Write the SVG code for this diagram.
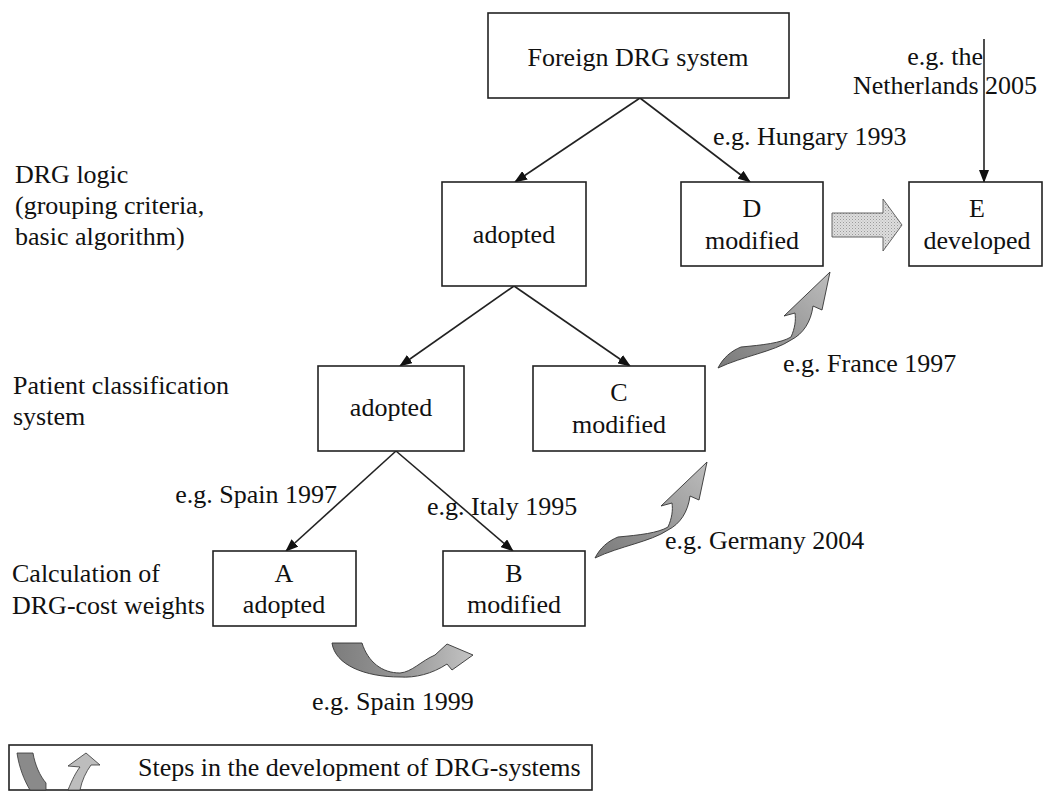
<svg xmlns="http://www.w3.org/2000/svg" width="1050" height="792" viewBox="0 0 1050 792">
<style>
text{font-family:"Liberation Serif","Times New Roman",serif;font-size:26px;fill:#111}
.c{text-anchor:middle}
.box{fill:#fff;stroke:#222;stroke-width:1.6}
.ln{stroke:#222;stroke-width:1.6;fill:none}
.curv{stroke:#333;stroke-width:0.9}
</style>
<defs>
<marker id="ah" markerUnits="userSpaceOnUse" markerWidth="13" markerHeight="10" refX="12" refY="5" orient="auto">
<path d="M0,0 L13,5 L0,10 z" fill="#111"/>
</marker>
<linearGradient id="gU" x1="0" y1="0" x2="1" y2="0">
<stop offset="0" stop-color="#7c7c7c"/><stop offset="0.55" stop-color="#9a9a9a"/><stop offset="1" stop-color="#c4c4c4"/>
</linearGradient>
<linearGradient id="gS" x1="0" y1="1" x2="1" y2="0">
<stop offset="0" stop-color="#7a7a7a"/><stop offset="0.5" stop-color="#999"/><stop offset="1" stop-color="#bdbdbd"/>
</linearGradient>
<pattern id="dots" width="3" height="3" patternUnits="userSpaceOnUse">
<rect width="3" height="3" fill="#dedede"/><rect width="1" height="1" fill="#9a9a9a"/><rect x="1.5" y="1.5" width="1" height="1" fill="#b5b5b5"/>
</pattern>
<path id="sArrow" d="M595,558 C600,548 608,541 618,537 C640,535 658,533 668,527 C672,518 673,510 672,503 L661,506 L707,462 L699,500 L690,496 C688,512 680,524 668,530 C650,542 620,546 595,558 Z"/>
</defs>

<g id="labels">
<text x="15" y="183">DRG logic</text>
<text x="15" y="214">(grouping criteria,</text>
<text x="15" y="245">basic algorithm)</text>
<text x="13" y="394">Patient classification</text>
<text x="13" y="425">system</text>
<text x="12" y="582">Calculation of</text>
<text x="12" y="614">DRG-cost weights</text>
</g>

<g id="connectors">
<line class="ln" x1="640" y1="98" x2="515" y2="182" marker-end="url(#ah)"/>
<line class="ln" x1="640" y1="98" x2="750" y2="182" marker-end="url(#ah)"/>
<line class="ln" x1="984" y1="39" x2="984" y2="182" marker-end="url(#ah)"/>
<line class="ln" x1="514" y1="286" x2="400" y2="366" marker-end="url(#ah)"/>
<line class="ln" x1="514" y1="286" x2="630" y2="366" marker-end="url(#ah)"/>
<line class="ln" x1="396" y1="451" x2="286" y2="551" marker-end="url(#ah)"/>
<line class="ln" x1="396" y1="451" x2="513" y2="551" marker-end="url(#ah)"/>
<path id="arrowDE" d="M832,213 L883,213 L883,199 L902,225 L883,251 L883,237 L832,237 Z" fill="url(#dots)" stroke="#555" stroke-width="0.9"/>
<use id="arrowBC" href="#sArrow" fill="url(#gS)" class="curv"/>
<use id="arrowCD" href="#sArrow" transform="translate(123,-190)" fill="url(#gS)" class="curv"/>
<path id="arrowAB" class="curv" fill="url(#gU)" d="M332,643 L362,643 C368,662 382,673 400,673 C412,672 421,661 435,655 L447,644 L473,655 L452,670 L447,664 C432,674 415,678 400,677 C365,677 335,665 332,643 Z"/>
</g>

<g id="connector-labels">
<text x="713" y="145">e.g. Hungary 1993</text>
<text x="983" y="65" text-anchor="end">e.g. the</text>
<text x="853" y="94">Netherlands 2005</text>
<text x="337" y="503" text-anchor="end">e.g. Spain 1997</text>
<text x="427" y="515">e.g. Italy 1995</text>
<text x="665" y="549">e.g. Germany 2004</text>
<text x="783" y="372">e.g. France 1997</text>
<text x="312" y="710">e.g. Spain 1999</text>
</g>

<g id="node-foreign">
<rect class="box" x="488" y="13" width="301" height="85"/>
<text class="c" x="638" y="66">Foreign DRG system</text>
</g>
<g id="node-logic-adopted">
<rect class="box" x="442" y="182" width="144" height="104"/>
<text class="c" x="514" y="243">adopted</text>
</g>
<g id="node-D">
<rect class="box" x="681" y="182" width="142" height="84"/>
<text class="c" x="752" y="217">D</text>
<text class="c" x="752" y="249">modified</text>
</g>
<g id="node-E">
<rect class="box" x="909" y="182" width="133" height="84"/>
<text class="c" x="977" y="217">E</text>
<text class="c" x="977" y="249">developed</text>
</g>
<g id="node-pcs-adopted">
<rect class="box" x="318" y="366" width="146" height="85"/>
<text class="c" x="391" y="416">adopted</text>
</g>
<g id="node-C">
<rect class="box" x="533" y="366" width="172" height="85"/>
<text class="c" x="619" y="401">C</text>
<text class="c" x="619" y="433">modified</text>
</g>
<g id="node-A">
<rect class="box" x="213" y="551" width="143" height="75"/>
<text class="c" x="284" y="582">A</text>
<text class="c" x="284" y="613">adopted</text>
</g>
<g id="node-B">
<rect class="box" x="443" y="551" width="142" height="75"/>
<text class="c" x="514" y="582">B</text>
<text class="c" x="514" y="613">modified</text>
</g>

<g id="legend">
<rect x="9" y="745" width="583" height="45" fill="#fff" stroke="#222" stroke-width="1.6"/>
<path d="M17,753 L33,753 C35,765 40,776 46,783 L46,790 L30,790 C24,780 19,767 17,753 Z" fill="#8a8a8a" stroke="#333" stroke-width="0.8"/>
<path d="M68,790 C72,780 76,772 80,767 L68,766 L86,753 L100,765 L91,765 C86,772 82,780 80,790 Z" fill="#bdbdbd" stroke="#333" stroke-width="0.8"/>
<text x="138" y="776">Steps in the development of DRG-systems</text>
</g>
</svg>
